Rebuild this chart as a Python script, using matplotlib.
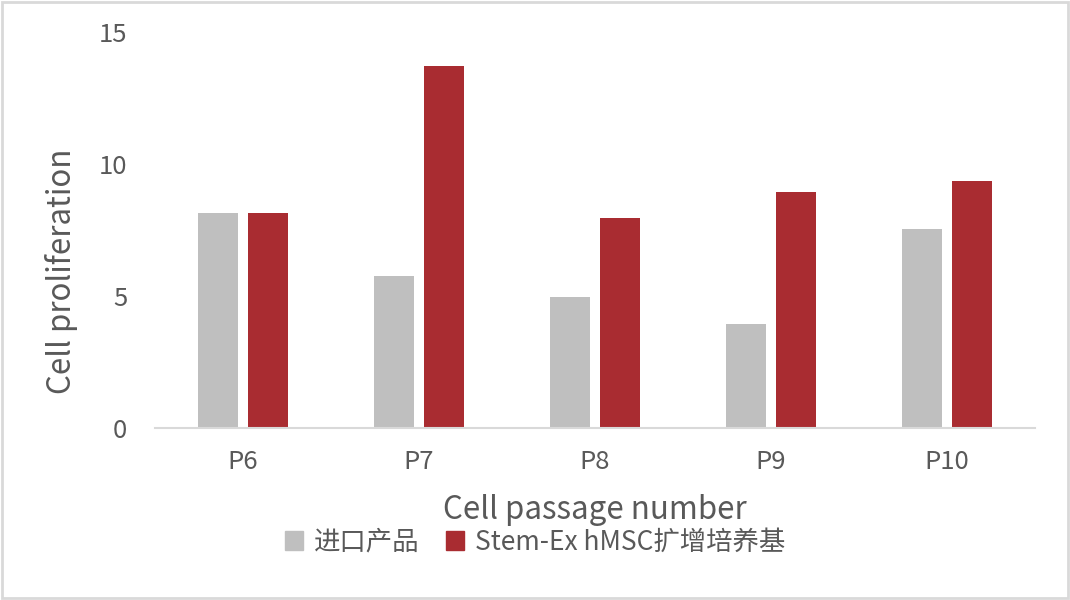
import numpy as np
import matplotlib.pyplot as plt
from matplotlib.patches import Rectangle, Patch

plt.rcParams['font.family'] = ['Noto Sans CJK SC', 'DejaVu Sans']

# 数据
passages = ['P6', 'P7', 'P8', 'P9', 'P10']
imported = [8.15, 5.75, 4.97, 3.94, 7.55]
stem_ex = [8.15, 13.72, 7.95, 8.93, 9.35]
series_names = ['进口产品', 'Stem-Ex hMSC扩增培养基']

gray = '#bfbfbf'
red = '#a92c31'
txt = '#595959'

fig = plt.figure(figsize=(10.7, 6), dpi=100)
ax = fig.add_axes([155 / 1070, 1 - 428 / 600, 880 / 1070, 396 / 600])

x = np.arange(len(passages))
w = 0.227
off = 0.142
ax.bar(x - off, imported, w, color=gray, label=series_names[0])
ax.bar(x + off, stem_ex, w, color=red, label=series_names[1])

ax.set_xlim(-0.5, len(passages) - 0.5)
ax.set_ylim(0, 15)
ax.set_yticks([0, 5, 10, 15])
ax.set_xticks(x)
ax.set_xticklabels(passages)

for s in ['top', 'right', 'left']:
    ax.spines[s].set_visible(False)
ax.spines['bottom'].set_color('#d9d9d9')
ax.spines['bottom'].set_linewidth(1.5)
ax.tick_params(axis='both', length=0, labelsize=18.5, labelcolor=txt)
ax.tick_params(axis='y', pad=20)
ax.tick_params(axis='x', pad=15)

ax.set_xlabel('Cell passage number', fontsize=22.5, color=txt, labelpad=14)
fig.text(62 / 1070, 1 - 271 / 600, 'Cell proliferation', rotation=90,
         ha='center', va='center', fontsize=22.5, color=txt)

handles = [Patch(color=gray), Patch(color=red)]
fig.legend(handles, series_names, loc='center', bbox_to_anchor=(0.5, 1 - 542 / 600),
           ncol=2, frameon=False, fontsize=19, labelcolor=txt,
           handlelength=0.7, handleheight=0.7, handletextpad=0.4, columnspacing=1.0)

# 外框
fig.patches.append(Rectangle((0.002, 0.003), 0.996, 0.994, transform=fig.transFigure,
                             fill=False, edgecolor='#d9d9d9', linewidth=2))

fig.savefig('out.png', dpi=100)
